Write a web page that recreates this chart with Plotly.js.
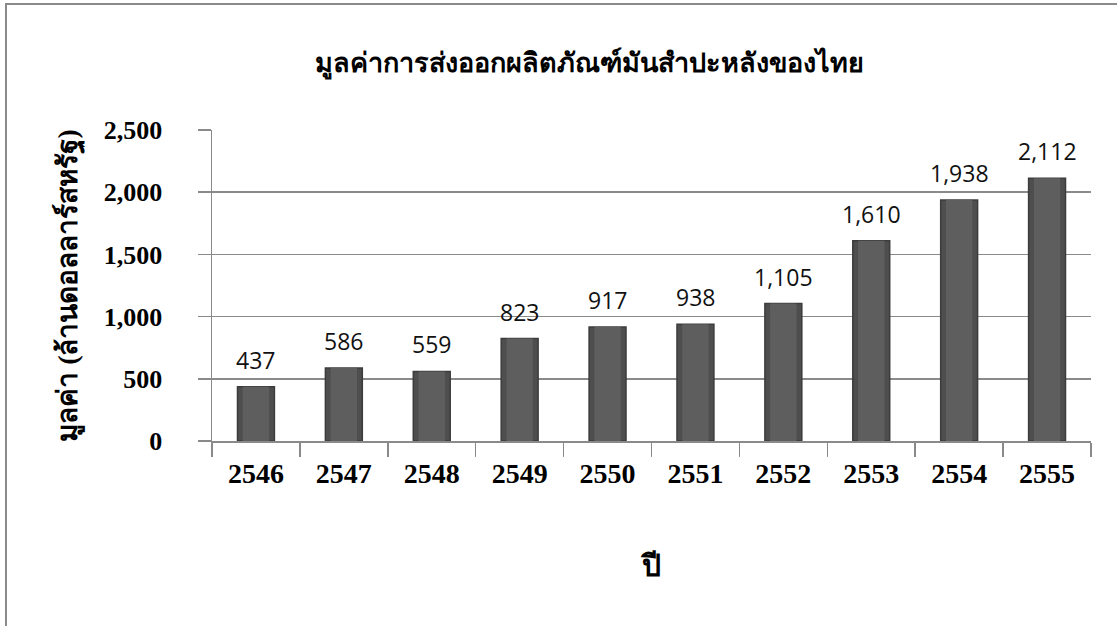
<!DOCTYPE html>
<html>
<head>
<meta charset="utf-8">
<script src="https://cdn.plot.ly/plotly-3.0.1.min.js"></script>
<style>
  html, body { margin: 0; padding: 0; background: #fff; }
  #chart { width: 1117px; height: 626px; }
  #frame { position: absolute; left: 5px; top: 3px; width: 1112px; height: 623px;
           border-left: 2px solid #8a8a8a; border-top: 2px solid #8a8a8a; pointer-events: none; }
</style>
</head>
<body>
<div id="chart"></div>
<div id="frame"></div>
<script>
const years = ['2546', '2547', '2548', '2549', '2550', '2551', '2552', '2553', '2554', '2555'];
const values = [437, 586, 559, 823, 917, 938, 1105, 1610, 1938, 2112];
const valueLabels = ['437', '586', '559', '823', '917', '938', '1,105', '1,610', '1,938', '2,112'];
const yTickVals = [0, 500, 1000, 1500, 2000, 2500];
const yTickText = ['0', '500', '1,000', '1,500', '2,000', '2,500'];
const chartTitle = 'มูลค่าการส่งออกผลิตภัณฑ์มันสำปะหลังของไทย';
const yTitle = 'มูลค่า (ล้านดอลลาร์สหรัฐ)';
const xTitle = 'ปี';

const serifBold = 'Liberation Serif, Times New Roman, serif';

const traces = [{
  type: 'bar',
  x: years,
  y: values,
  width: 0.42,
  marker: { color: '#4e4e4e', line: { color: '#3c3c3c', width: 1.5 } },
  hoverinfo: 'x+y'
}, {
  type: 'bar',
  x: years,
  y: values,
  width: 0.3,
  marker: { color: '#5e5e5e', line: { width: 0 } },
  hoverinfo: 'skip'
}];

const annotations = years.map((yr, i) => ({
  x: i, y: values[i], xref: 'x', yref: 'y',
  text: valueLabels[i], showarrow: false,
  yanchor: 'bottom', yshift: 9,
  font: { family: 'Open Sans, Noto Sans, sans-serif', size: 23, color: '#111' }
}));

const layout = {
  width: 1117, height: 626,
  margin: { l: 212, r: 26, t: 130, b: 185 },
  paper_bgcolor: '#fff', plot_bgcolor: '#fff',
  showlegend: false,
  barmode: 'overlay',
  title: {
    text: '<b>' + chartTitle + '</b>',
    x: 0.528, xanchor: 'center', y: 0.9, yanchor: 'middle',
    font: { family: serifBold, size: 27, color: '#000' }
  },
  xaxis: {
    type: 'category',
    categoryarray: years, categoryorder: 'array',
    range: [-0.5, 9.5],
    tickson: 'boundaries',
    tickangle: 0,
    ticks: 'outside', ticklen: 14, tickwidth: 1.5, tickcolor: '#8a8a8a',
    showline: true, linecolor: '#8a8a8a', linewidth: 1.5,
    showgrid: false,
    ticklabelstandoff: 7,
    tickfont: { family: serifBold, size: 28, color: '#000', weight: 'bold' },
    title: { text: '<b>' + xTitle + '</b>', standoff: 67,
             font: { family: serifBold, size: 30, color: '#000' } }
  },
  yaxis: {
    range: [0, 2500],
    tickvals: yTickVals, ticktext: yTickText,
    ticks: 'outside', ticklen: 13, tickwidth: 1.5, tickcolor: '#8a8a8a',
    showline: true, linecolor: '#8a8a8a', linewidth: 1.5,
    showgrid: true, gridcolor: '#8a8a8a', gridwidth: 1.5,
    zeroline: false,
    ticklabelstandoff: 30,
    tickfont: { family: serifBold, size: 26, color: '#000', weight: 'bold' },
    title: { text: '<b>' + yTitle + '</b>', standoff: 18,
             font: { family: serifBold, size: 28, color: '#000' } }
  },
  annotations: annotations
};

Plotly.newPlot('chart', traces, layout, { displayModeBar: false, staticPlot: true });
</script>
</body>
</html>
